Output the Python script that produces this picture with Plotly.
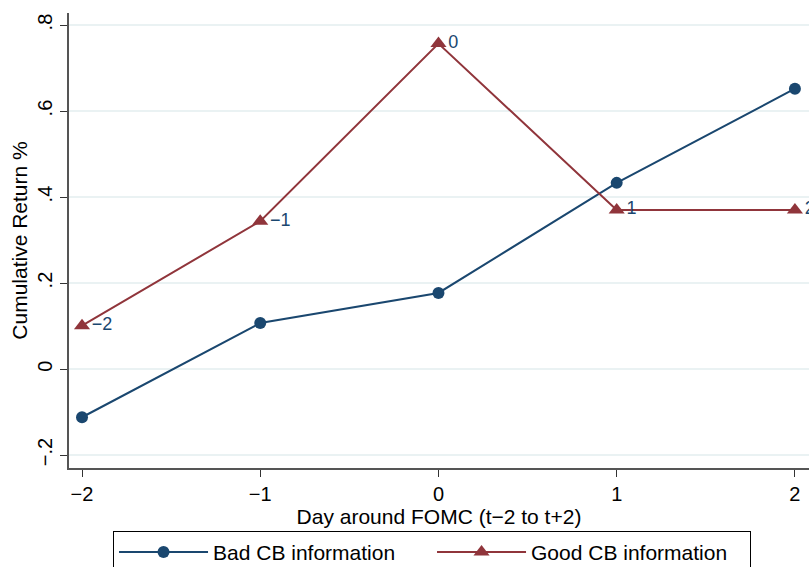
import plotly.graph_objects as go

# Event-window days around the FOMC announcement
days = [-2, -1, 0, 1, 2]
day_labels = ["\u22122", "\u22121", "0", "1", "2"]

# Cumulative returns (%) by type of central-bank information
bad_cb = [-0.112, 0.107, 0.177, 0.433, 0.652]
good_cb = [0.101, 0.344, 0.757, 0.370, 0.370]

# Axis ticks
y_ticks = [-0.2, 0.0, 0.2, 0.4, 0.6, 0.8]
y_ticktext = ["\u2212.2", "0", ".2", ".4", ".6", ".8"]
x_ticktext = ["\u22122", "\u22121", "0", "1", "2"]

NAVY = "#1a476f"
MAROON = "#90353b"
FONT = "Liberation Sans, Arial, sans-serif"

fig = go.Figure()

fig.add_trace(go.Scatter(
    x=days, y=bad_cb, name="Bad CB information",
    mode="lines+markers",
    line=dict(color=NAVY, width=2),
    marker=dict(symbol="circle", size=12, color=NAVY),
))

fig.add_trace(go.Scatter(
    x=days, y=good_cb, name="Good CB information",
    mode="lines+markers+text",
    line=dict(color=MAROON, width=2),
    marker=dict(symbol="triangle-up", size=14, color=MAROON),
    text=day_labels, textposition="middle right",
    textfont=dict(color=NAVY, size=18, family=FONT),
))

fig.update_layout(
    width=809, height=567,
    margin=dict(l=69, r=0, t=13, b=99, autoexpand=False),
    paper_bgcolor="white", plot_bgcolor="white",
    font=dict(family=FONT, color="black", size=20),
    showlegend=True,
    legend=dict(
        orientation="h", xanchor="left", yanchor="top",
        x=0.0595, y=-0.138,
        bordercolor="black", borderwidth=1,
        font=dict(size=21, family=FONT),
        itemwidth=89, entrywidth=214,
    ),
)

fig.update_xaxes(
    range=[-2.073, 2.079],
    tickvals=days, ticktext=x_ticktext,
    ticks="outside", ticklen=7, tickcolor="#333", tickwidth=1,
    showline=True, linecolor="#555", linewidth=2,
    showgrid=False, zeroline=False,
    tickfont=dict(size=20),
    title=dict(text="Day around FOMC (t\u22122 to t+2)", font=dict(size=21), standoff=4),
)

fig.update_yaxes(
    range=[-0.23, 0.828],
    tickvals=y_ticks, ticktext=y_ticktext, tickangle=-90,
    ticks="outside", ticklen=7, tickcolor="#333", tickwidth=1,
    showline=True, linecolor="#555", linewidth=2,
    showgrid=True, gridcolor="#eaf2f3", gridwidth=1.5,
    zeroline=False,
    tickfont=dict(size=20),
    title=dict(text="Cumulative Return %", font=dict(size=21), standoff=1),
)

fig.write_html("out.html")
